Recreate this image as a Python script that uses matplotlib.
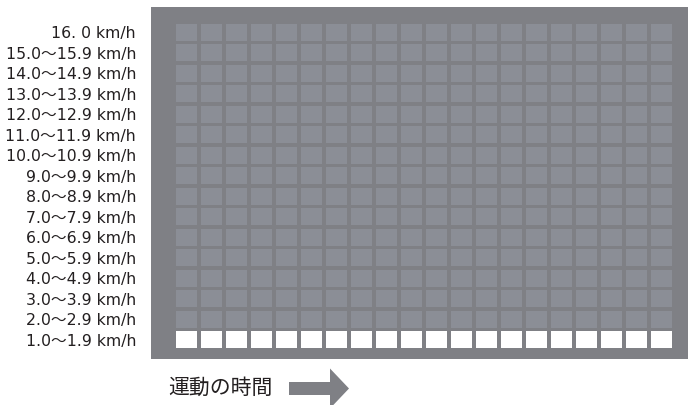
import matplotlib
matplotlib.use("Agg")
import matplotlib.pyplot as plt
from matplotlib.patches import Rectangle, FancyArrow
import numpy as np

plt.rcParams['font.family'] = ['Noto Sans CJK JP', 'DejaVu Sans']

# speed categories, bottom to top
speed_labels = ["1.0～1.9 km/h", "2.0～2.9 km/h", "3.0～3.9 km/h", "4.0～4.9 km/h",
                "5.0～5.9 km/h", "6.0～6.9 km/h", "7.0～7.9 km/h", "8.0～8.9 km/h",
                "9.0～9.9 km/h", "10.0～10.9 km/h", "11.0～11.9 km/h", "12.0～12.9 km/h",
                "13.0～13.9 km/h", "14.0～14.9 km/h", "15.0～15.9 km/h", "16. 0 km/h"]
n_time = 20
# cell state per speed row: 1 = filled (white), 0 = empty (gray)
row_state = [1, 0, 0, 0, 0, 0, 0, 0, 0, 0, 0, 0, 0, 0, 0, 0]
x_label = "運動の時間"

W, H = 688, 405
fig = plt.figure(figsize=(W / 100, H / 100), dpi=100)
fig.patch.set_facecolor("white")

bg = "#7f8085"
empty_c = "#8b8e96"
fill_c = "#ffffff"
text_c = "#231f20"

left, right, top, bottom = 151, 688, 7, 359
ax = fig.add_axes([left / W, 1 - bottom / H, (right - left) / W, (bottom - top) / H])
ax.set_facecolor(bg)
ax.set_xlim(-1.42, n_time - 1 + 1.06)
ax.set_ylim(-0.94, len(speed_labels) - 1 + 1.24)

cw, ch = 0.84, 0.83
for j, state in enumerate(row_state):
    for i in range(n_time):
        ax.add_patch(Rectangle((i - cw / 2, j - ch / 2), cw, ch,
                               facecolor=fill_c if state else empty_c,
                               edgecolor="none"))

ax.set_xticks([])
ax.set_yticks(range(len(speed_labels)))
ax.set_yticklabels(speed_labels, fontsize=11.3, color=text_c,
                   family=['DejaVu Sans', 'Noto Sans CJK JP'])
ax.tick_params(axis="y", length=0, pad=10.8)
for s in ax.spines.values():
    s.set_visible(False)

fig.text(168 / W, 1 - 388 / H, x_label, fontsize=15, color=text_c,
         ha="left", va="center")
fig.patches.append(FancyArrow(289 / W, 1 - 388.5 / H, (349 - 289) / W, 0,
                              width=13 / H, head_width=40 / H, head_length=19 / W,
                              length_includes_head=True, transform=fig.transFigure,
                              facecolor=bg, edgecolor="none"))

fig.savefig("out.png", dpi=100, facecolor="white")
